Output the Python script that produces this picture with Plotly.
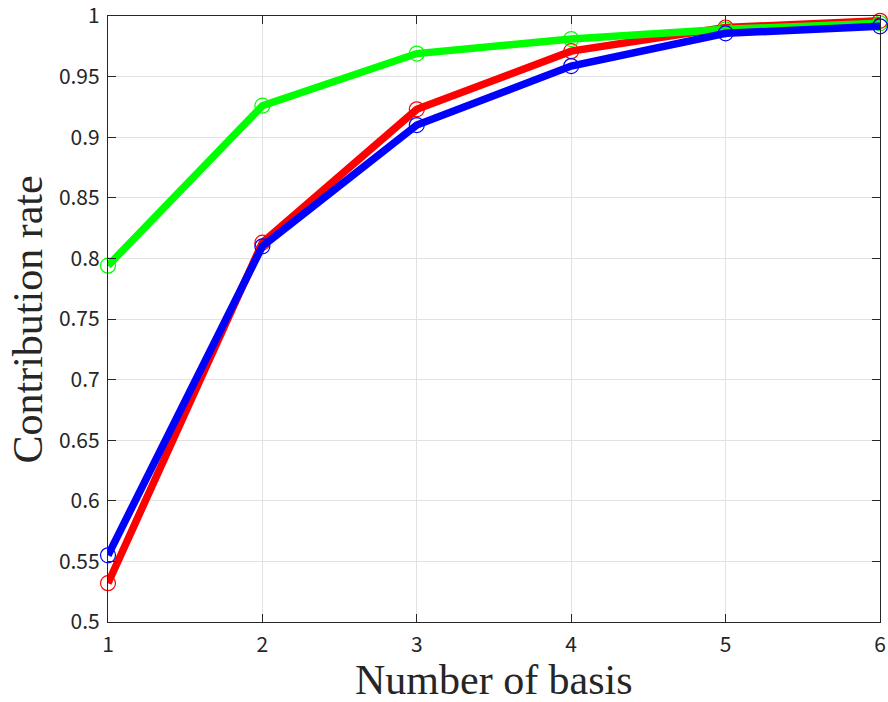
import plotly.graph_objects as go

# Contribution rate vs. number of basis vectors, three methods
basis = [1, 2, 3, 4, 5, 6]
rate_red = [0.532, 0.813, 0.923, 0.971, 0.9905, 0.996]
rate_green = [0.794, 0.926, 0.969, 0.981, 0.989, 0.994]
rate_blue = [0.555, 0.810, 0.910, 0.9587, 0.9857, 0.9915]

y_ticks = [0.5, 0.55, 0.6, 0.65, 0.7, 0.75, 0.8, 0.85, 0.9, 0.95, 1.0]
y_tick_text = ["0.5", "0.55", "0.6", "0.65", "0.7", "0.75", "0.8", "0.85", "0.9", "0.95", "1"]

fig = go.Figure()

for vals, color in [(rate_red, "#ff0000"), (rate_green, "#00ff00"), (rate_blue, "#0000ff")]:
    fig.add_trace(go.Scatter(
        x=basis, y=vals, mode="lines+markers",
        line=dict(color=color, width=7.5),
        marker=dict(symbol="circle-open", size=15, color=color, line=dict(width=1.2, color=color)),
        showlegend=False, cliponaxis=False,
    ))

tick_font = dict(family="Noto Sans CJK JP, Noto Sans, sans-serif", size=21, color="#262626")
title_font = dict(family="Liberation Serif, Times New Roman, serif", size=42, color="#262626")

axis_common = dict(
    showline=True, linecolor="#262626", linewidth=1.2, mirror="ticks",
    ticks="inside", ticklen=8, tickcolor="#262626", tickwidth=1,
    showgrid=True, gridcolor="#e2e2e2", gridwidth=1, zeroline=False,
    tickfont=tick_font, automargin=False, ticklabeloverflow="allow",
)

fig.update_xaxes(range=[1, 6], tickvals=basis, ticktext=[str(b) for b in basis],
                 ticklabelstandoff=4, **axis_common)
fig.update_yaxes(range=[0.5, 1.0], tickvals=y_ticks, ticktext=y_tick_text,
                 ticklabelstandoff=3, **axis_common)

# Axis titles
fig.add_annotation(text="Number of basis", xref="paper", yref="paper",
                   x=0.5, y=-0.095, xanchor="center", yanchor="middle",
                   showarrow=False, font=title_font)
fig.add_annotation(text="Contribution rate", xref="paper", yref="paper",
                   x=-0.103, y=0.5, xanchor="center", yanchor="middle",
                   textangle=-90, showarrow=False, font=title_font)

fig.update_layout(
    width=888, height=702,
    margin=dict(l=108, r=8, t=16, b=80),
    paper_bgcolor="white", plot_bgcolor="white",
)

fig.write_html("out.html")
